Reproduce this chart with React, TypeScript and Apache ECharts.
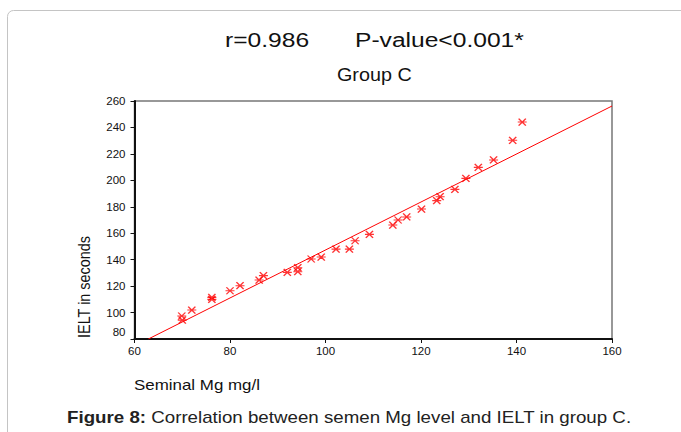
import React, { useEffect, useRef } from "react";
import * as echarts from "echarts";

const seminalMg = [69.9, 70.0, 72.0, 76.2, 76.2, 80.0, 82.1, 86.1, 87.0, 92.0, 94.2, 94.2, 97.0, 99.1, 102.2, 105.0, 106.2, 109.2, 114.1, 115.2, 117.0, 120.1, 123.3, 124.0, 127.1, 129.4, 132.0, 135.2, 139.2, 141.2];
const ieltSeconds = [97.4, 94.3, 101.9, 111.5, 110.0, 116.5, 120.3, 124.6, 127.9, 130.4, 133.9, 130.9, 140.5, 142.0, 148.0, 148.0, 154.3, 159.1, 166.2, 170.0, 172.3, 178.3, 184.6, 187.6, 193.2, 201.5, 209.8, 215.4, 230.3, 244.1];
const fitLineX = [62.9, 160];
const fitLineY = [80, 256.2];
const xTicks = [60, 80, 100, 120, 140, 160];
const yTicks = [80, 100, 120, 140, 160, 180, 200, 220, 240, 260];

const FONT = "'Liberation Sans', Arial, sans-serif";

export default function App() {
  const ref = useRef<HTMLDivElement>(null);
  useEffect(() => {
    document.body.style.margin = "0";
    const chart = echarts.init(ref.current!, null, { renderer: "svg" });
    const points = seminalMg.map((x, i) => [x, ieltSeconds[i]]);
    const fit = fitLineX.map((x, i) => [x, fitLineY[i]]);
    chart.setOption({
      animation: false,
      backgroundColor: "#fff",
      textStyle: { fontFamily: FONT },
      grid: {
        left: 134.5,
        right: 69,
        top: 101,
        bottom: 93,
        show: true,
        borderColor: "#777",
        borderWidth: 1.5,
      },
      xAxis: {
        type: "value",
        min: xTicks[0],
        max: xTicks[xTicks.length - 1],
        interval: 20,
        axisLine: { onZero: false, lineStyle: { color: "#111", width: 2 } },
        axisTick: { show: true, length: 4, lineStyle: { color: "#111" } },
        axisLabel: { color: "#111", fontSize: 11.5, fontFamily: FONT, margin: 6 },
        splitLine: { show: false },
      },
      yAxis: {
        type: "value",
        min: yTicks[0],
        max: yTicks[yTicks.length - 1],
        interval: 20,
        axisLine: { onZero: false, lineStyle: { color: "#111", width: 2 } },
        axisTick: { show: true, length: 4, lineStyle: { color: "#111" } },
        axisLabel: {
          color: "#111",
          fontSize: 11.5,
          fontFamily: FONT,
          margin: 9,
          formatter: (v: number) => (v === yTicks[0] ? `{low|${v}}` : `${v}`),
          rich: {
            low: { fontSize: 11.5, fontFamily: FONT, color: "#111", padding: [0, 0, 14, 0] },
          },
        },
        splitLine: { show: false },
      },
      series: [
        {
          type: "line",
          data: fit,
          symbol: "none",
          lineStyle: { color: "#ff0000", width: 1 },
          z: 2,
        },
        {
          type: "scatter",
          data: points,
          symbol: "path://M0,4H10M1,0L9,8M1,8L9,0",
          symbolSize: [9, 7],
          itemStyle: { color: "#ff0000", borderColor: "#ff0000", borderWidth: 1.3 },
          z: 3,
        },
      ],
      graphic: [
        {
          type: "rect",
          shape: { x: 7.5, y: 10.5, width: 720, height: 460, r: 6 },
          style: { fill: "none", stroke: "#c4c4c4", lineWidth: 1 },
          silent: true,
        },
        {
          type: "text",
          x: 225,
          y: 40,
          scaleX: 1.23,
          style: { text: "r=0.986", font: `20px ${FONT}`, fill: "#111", verticalAlign: "middle" },
        },
        {
          type: "text",
          x: 355,
          y: 40,
          scaleX: 1.23,
          style: { text: "P-value<0.001*", font: `20px ${FONT}`, fill: "#111", verticalAlign: "middle" },
        },
        {
          type: "text",
          x: 337,
          y: 75,
          scaleX: 1.13,
          style: { text: "Group C", font: `17.5px ${FONT}`, fill: "#111", verticalAlign: "middle" },
        },
        {
          type: "text",
          x: 84,
          y: 287,
          rotation: Math.PI / 2,
          scaleY: 1.2,
          style: {
            text: "IELT in seconds",
            font: `14.4px ${FONT}`,
            fill: "#111",
            align: "center",
            verticalAlign: "middle",
          },
        },
        {
          type: "text",
          x: 134,
          y: 385,
          scaleX: 1.21,
          style: { text: "Seminal Mg mg/l", font: `14px ${FONT}`, fill: "#111", verticalAlign: "middle" },
        },
        {
          type: "text",
          x: 67,
          y: 417,
          scaleX: 1.17,
          style: {
            text: "{b|Figure 8:} Correlation between semen Mg level and IELT in group C.",
            font: `16px ${FONT}`,
            fill: "#222",
            verticalAlign: "middle",
            rich: {
              b: { font: `bold 16px ${FONT}`, fill: "#222" },
            },
          },
        },
      ],
    });
    return () => chart.dispose();
  }, []);
  return <div ref={ref} style={{ width: 681, height: 432 }} />;
}
